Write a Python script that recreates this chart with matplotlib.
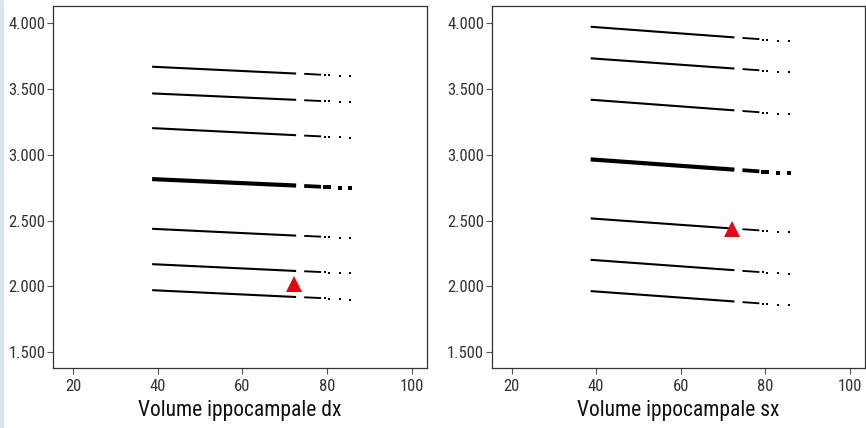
import numpy as np
import matplotlib
matplotlib.use('Agg')
import matplotlib.pyplot as plt
from matplotlib.patches import Rectangle

plt.rcParams['font.family'] = ['Roboto Condensed', 'Liberation Sans Narrow', 'Roboto', 'DejaVu Sans']

# x positions where the predicted lines have observations
x_knots = [38.7, 72.7, 74.6, 78.6, 83.1, 85.5]

# y read at each knot, one row per line (top to bottom)
dx_lines = [
    [3670, 3618, 3616, 3609, 3603, 3599],
    [3467, 3418, 3415, 3409, 3402, 3399],
    [3203, 3149, 3146, 3140, 3133, 3129],
    [2815, 2766, 2763, 2757, 2750, 2747],
    [2437, 2385, 2383, 2377, 2370, 2366],
    [2168, 2116, 2114, 2108, 2101, 2097],
    [1970, 1918, 1916, 1910, 1903, 1899],
]
sx_lines = [
    [3974, 3893, 3889, 3880, 3869, 3863],
    [3734, 3656, 3652, 3643, 3632, 3627],
    [3419, 3338, 3333, 3324, 3313, 3307],
    [2965, 2887, 2883, 2874, 2863, 2858],
    [2516, 2438, 2434, 2425, 2414, 2409],
    [2201, 2122, 2117, 2108, 2098, 2092],
    [1963, 1884, 1879, 1870, 1860, 1854],
]
# sparse dots right after the second segment
x_mid_dots = [79.4, 80.4]
dx_mid = [[3607, 3606], [3407, 3406], [3138, 3136], [2755, 2754],
          [2375, 2373], [2106, 2104], [1908, 1906]]
sx_mid = [[3877, 3874], [3641, 3638], [3321, 3318], [2871, 2869],
          [2422, 2420], [2106, 2103], [1867, 1865]]
thick_line = 3  # index of the dense line

# patient marker
dx_point = (72.1, 2020)
sx_point = (72.2, 2432)

x_ticks = [20, 40, 60, 80, 100]
y_ticks = [1500, 2000, 2500, 3000, 3500, 4000]
y_labels = ['1.500', '2.000', '2.500', '3.000', '3.500', '4.000']

fig = plt.figure(figsize=(8.66, 4.28), dpi=100)
fig.patches.append(Rectangle((0, 0), 0.003, 1, transform=fig.transFigure,
                             color='#dbe5f1', zorder=0))

def draw_panel(ax, lines, mids, point, label):
    for i, ys in enumerate(lines):
        lw = 3.0 if i == thick_line else 1.5
        ms = 2.6 if i == thick_line else 1.9
        ax.plot(x_knots[0:2], ys[0:2], color='black', lw=lw, solid_capstyle='butt')
        ax.plot(x_knots[2:4], ys[2:4], color='black', lw=lw * 0.9, solid_capstyle='butt')
        ax.plot(x_mid_dots, mids[i], 's', color='black', ms=ms, mew=0)
        ax.plot(x_knots[4:6], ys[4:6], 's', color='black', ms=ms, mew=0)
    ax.plot(point[0], point[1], '^', color='#e30613', ms=12, mew=0)
    ax.set_xlim(15.3, 103.6)
    ax.set_ylim(1378, 4132)
    ax.set_xticks(x_ticks)
    ax.set_yticks(y_ticks)
    ax.set_yticklabels(y_labels)
    ax.tick_params(direction='out', length=4, width=0.8, color='#555555',
                   labelsize=12, labelcolor='#333333')
    ax.tick_params(axis='y', pad=1.5)
    ax.tick_params(axis='x', pad=4)
    for s in ax.spines.values():
        s.set_color('#333333')
        s.set_linewidth(0.9)
    ax.set_xlabel(label, fontsize=15.5, color='#111111', labelpad=4)

ax1 = fig.add_axes([0.0612, 0.1402, 0.4319, 0.8458])
draw_panel(ax1, dx_lines, dx_mid, dx_point, 'Volume ippocampale dx')

ax2 = fig.add_axes([0.5678, 0.1402, 0.4311, 0.8458])
draw_panel(ax2, sx_lines, sx_mid, sx_point, 'Volume ippocampale sx')

fig.savefig('out.png', dpi=100)
